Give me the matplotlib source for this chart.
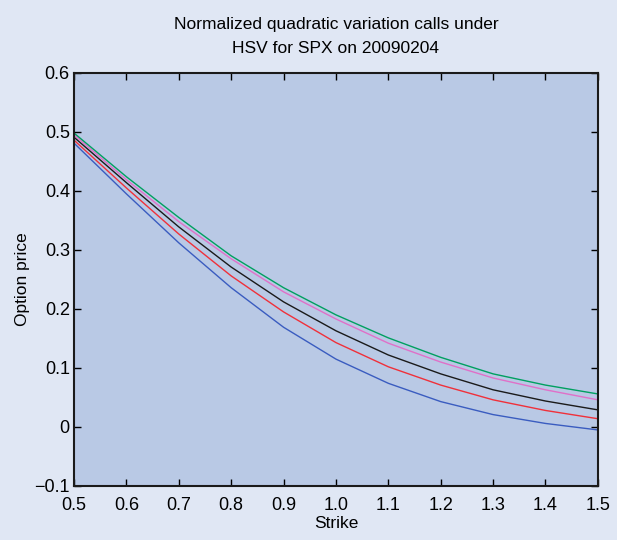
import matplotlib
matplotlib.use("Agg")
import matplotlib.pyplot as plt

plt.rcParams['font.family'] = ['Liberation Sans', 'DejaVu Sans']

# strikes and call prices
strike = [0.5, 0.6, 0.7, 0.8, 0.9, 1.0, 1.1, 1.2, 1.3, 1.4, 1.5]
blue = [0.481, 0.395, 0.312, 0.236, 0.169, 0.115, 0.074, 0.043, 0.021, 0.006, -0.005]
red = [0.486, 0.405, 0.327, 0.256, 0.195, 0.143, 0.102, 0.071, 0.046, 0.028, 0.014]
black = [0.491, 0.414, 0.339, 0.271, 0.212, 0.163, 0.122, 0.090, 0.063, 0.044, 0.029]
magenta = [0.495, 0.419, 0.348, 0.285, 0.229, 0.183, 0.142, 0.110, 0.083, 0.063, 0.046]
green = [0.498, 0.424, 0.355, 0.290, 0.236, 0.190, 0.151, 0.118, 0.090, 0.071, 0.056]

fig = plt.figure(figsize=(6.17, 5.40), dpi=100, facecolor='#e0e7f4')
ax = fig.add_axes([0.120, 0.100, 0.849, 0.765], facecolor='#b9c9e5')

ax.plot(strike, blue, color='#3a5cc0', lw=1)
ax.plot(strike, red, color='#f0303a', lw=1)
ax.plot(strike, black, color='#1a1a1a', lw=1)
ax.plot(strike, magenta, color='#e070c8', lw=1)
ax.plot(strike, green, color='#00a060', lw=1)

ax.set_xlim(0.5, 1.5)
ax.set_ylim(-0.1, 0.6)
ax.set_xticks([0.5, 0.6, 0.7, 0.8, 0.9, 1.0, 1.1, 1.2, 1.3, 1.4, 1.5])
ax.set_yticks([-0.1, 0, 0.1, 0.2, 0.3, 0.4, 0.5, 0.6])
ax.set_yticklabels(['\u22120.1', '0', '0.1', '0.2', '0.3', '0.4', '0.5', '0.6'])
ax.tick_params(direction='in', top=True, right=True, length=5, width=1, labelsize=13)
ax.tick_params(axis='x', pad=8)
ax.tick_params(axis='y', pad=3)
for s in ax.spines.values():
    s.set_linewidth(1.5)
    s.set_color('#1a1a1a')

ax.set_xlabel('Strike', fontsize=12.5, labelpad=1)
ax.set_ylabel('Option price', fontsize=12.5, labelpad=3)
ax.set_title('Normalized quadratic variation calls under\nHSV for SPX on 20090204',
             fontsize=12.5, pad=14, linespacing=1.8)

fig.savefig('out.png', dpi=100, facecolor=fig.get_facecolor())
